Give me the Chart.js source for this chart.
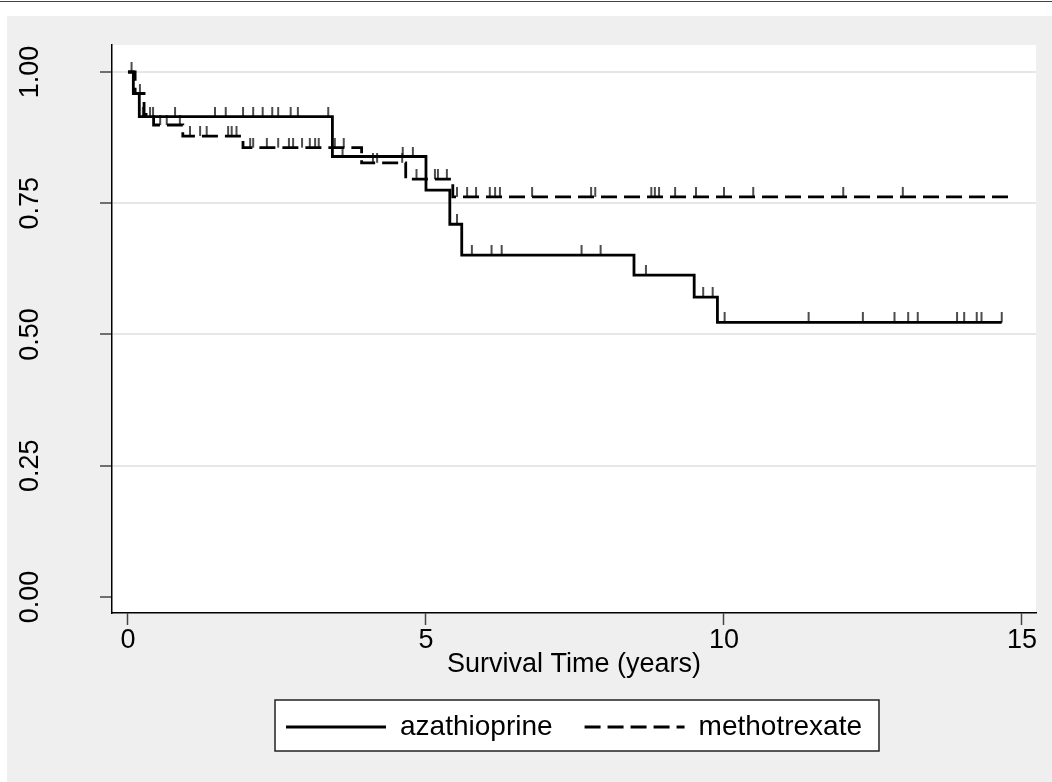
<!DOCTYPE html>
<html>
<head>
<meta charset="utf-8">
<script src="https://cdn.jsdelivr.net/npm/chart.js@4.4.1/dist/chart.umd.min.js"></script>
<style>
  html, body { margin: 0; padding: 0; background: #fff; }
  #frame { position: relative; width: 1052px; height: 782px; overflow: hidden; }
  #topline { position: absolute; left: 0; top: 1px; width: 1052px; height: 1px; background: #444; }
  #panel { position: absolute; left: 7px; top: 16px; right: 0; bottom: 0; background: #efefef; }
  #wrap { position: absolute; left: 0; top: 0; width: 1052px; height: 782px; }
</style>
</head>
<body>
<div id="frame">
  <div id="topline"></div>
  <div id="panel"></div>
  <div id="wrap"><canvas id="kmChart"></canvas></div>
</div>
<script>
// step points: time of each drop and the survival after it
const azaTimes = [0, 0.09, 0.19, 3.43, 5.0, 5.4, 5.6, 8.49, 9.5, 9.89, 14.66];
const azaSurv  = [1.0, 0.959, 0.915, 0.839, 0.775, 0.71, 0.651, 0.613, 0.571, 0.523, 0.523];
const mtxTimes = [0, 0.12, 0.27, 0.43, 0.92, 1.93, 3.92, 4.66, 5.45, 14.8];
const mtxSurv  = [1.0, 0.959, 0.919, 0.899, 0.878, 0.856, 0.827, 0.796, 0.762, 0.762];

// censoring times (drawn as ticks on the curve)
const azaCensored = [0.25, 0.37, 0.42, 0.79, 1.46, 1.64, 1.93, 2.10, 2.26, 2.42, 2.52, 2.73, 2.85, 3.36,
                     3.6, 4.61, 4.78, 5.52, 5.77, 6.10, 6.27, 7.61, 7.93, 8.69, 9.65, 9.81,
                     10.01, 11.42, 12.33, 12.86, 13.09, 13.25, 13.91, 14.03, 14.24, 14.32, 14.66];
const mtxCensored = [0.06, 0.2, 0.54, 0.65, 0.87, 1.04, 1.21, 1.32, 1.68, 1.74, 1.82,
                     2.05, 2.10, 2.33, 2.52, 2.70, 2.77, 2.92, 3.05, 3.14, 3.20, 3.47, 3.62,
                     4.11, 4.18, 4.60, 4.84, 5.15, 5.20, 5.35,
                     5.52, 5.69, 5.84, 6.07, 6.16, 6.24, 6.78, 7.77, 7.84, 8.78, 8.84, 8.91,
                     9.18, 9.53, 10.0, 10.49, 12.0, 13.0];

const xTickValues = [0, 5, 10, 15];
const yTickValues = [0, 0.25, 0.5, 0.75, 1];

const fontFamily = "'Liberation Sans', Arial, Helvetica, sans-serif";

function stepPoints(times, surv) {
    return times.map((t, i) => ({ x: t, y: surv[i] }));
}

function survivalAt(times, surv, t) {
    let s = surv[0];
    times.forEach((time, i) => { if (time <= t) s = surv[i]; });
    return s;
}

function censorPoints(times, surv, censored) {
    return censored.map(t => ({ x: t, y: survivalAt(times, surv, t) }));
}

// small upward tick used as point style for censored observations
function makeTickMark() {
    const c = document.createElement('canvas');
    c.width = 4;
    c.height = 20;
    const g = c.getContext('2d');
    g.fillStyle = '#222';
    g.fillRect(1.2, 0, 1.6, 10);
    return c;
}
const tickMark = makeTickMark();

const plotBackground = {
    id: 'plotBackground',
    beforeDraw(chart) {
        const { ctx, chartArea } = chart;
        ctx.save();
        ctx.fillStyle = '#fff';
        ctx.fillRect(chartArea.left, chartArea.top, chartArea.right - chartArea.left, chartArea.bottom - chartArea.top);

        const boxes = chart.legend.legendHitBoxes;
        if (boxes && boxes.length) {
            const first = boxes[0];
            const last = boxes[boxes.length - 1];
            const left = first.left - 11;
            const right = last.left + last.width + 17;
            const top = first.top - 13;
            ctx.fillStyle = '#fff';
            ctx.fillRect(left, top, right - left, 51);
            ctx.strokeStyle = '#222';
            ctx.lineWidth = 1.5;
            ctx.strokeRect(left, top, right - left, 51);
        }
        ctx.restore();
    }
};

const defaultLabels = Chart.defaults.plugins.legend.labels.generateLabels;

new Chart(document.getElementById('kmChart'), {
    type: 'line',
    data: {
        datasets: [
            {
                label: 'azathioprine',
                data: stepPoints(azaTimes, azaSurv),
                stepped: 'before',
                borderColor: '#000',
                borderWidth: 2.8,
                pointRadius: 0,
                fill: false,
            },
            {
                label: 'methotrexate',
                data: stepPoints(mtxTimes, mtxSurv),
                stepped: 'before',
                borderColor: '#000',
                borderWidth: 2.8,
                borderDash: [16, 7],
                pointRadius: 0,
                fill: false,
            },
            {
                label: 'aza censored',
                type: 'scatter',
                data: censorPoints(azaTimes, azaSurv, azaCensored),
                pointStyle: tickMark,
                pointRadius: 5,
                showLine: false,
            },
            {
                label: 'mtx censored',
                type: 'scatter',
                data: censorPoints(mtxTimes, mtxSurv, mtxCensored),
                pointStyle: tickMark,
                pointRadius: 5,
                showLine: false,
            },
        ],
    },
    options: {
        responsive: true,
        maintainAspectRatio: false,
        animation: false,
        events: [],
        layout: { padding: { left: 0, right: 16, top: 45, bottom: 31 } },
        plugins: {
            tooltip: { enabled: false },
            legend: {
                position: 'bottom',
                fullSize: false,
                labels: {
                    generateLabels: chart => defaultLabels(chart)
                        .filter(item => item.datasetIndex < 2)
                        .map(item => ({ ...item, lineDash: chart.data.datasets[item.datasetIndex].borderDash || [] })),
                    usePointStyle: true,
                    pointStyle: 'line',
                    pointStyleWidth: 100,
                    padding: 32,
                    color: '#000',
                    font: { family: fontFamily, size: 28 },
                },
            },
        },
        scales: {
            x: {
                type: 'linear',
                min: -0.268,
                max: 15.235,
                afterBuildTicks: scale => { scale.ticks = xTickValues.map(v => ({ value: v })); },
                afterFit: scale => {
                    scale.height = 68;
                    scale.paddingLeft = 0;
                    scale.paddingRight = 0;
                },
                border: { color: '#000', width: 1.5 },
                grid: { drawOnChartArea: false, tickLength: 12, tickColor: '#444', tickWidth: 1.5 },
                ticks: {
                    autoSkip: false,
                    maxRotation: 0,
                    padding: 2,
                    color: '#000',
                    font: { family: fontFamily, size: 27, lineHeight: 1 },
                },
                title: {
                    display: true,
                    text: 'Survival Time (years)',
                    color: '#000',
                    padding: { top: 0, bottom: 2.5 },
                    font: { family: fontFamily, size: 27, lineHeight: 1 },
                },
            },
            y: {
                min: -0.0305,
                max: 1.0514,
                afterBuildTicks: scale => { scale.ticks = yTickValues.map(v => ({ value: v })); },
                afterFit: scale => {
                    scale.width = 112;
                    scale.paddingTop = 0;
                    scale.paddingBottom = 0;
                },
                border: { color: '#000', width: 1.5 },
                grid: {
                    color: c => (c.tick && c.tick.value === 0 ? 'rgba(0,0,0,0)' : '#e6e6e6'),
                    lineWidth: 2,
                    tickLength: 12,
                    tickColor: '#444',
                    tickWidth: 1.5,
                },
                ticks: {
                    autoSkip: false,
                    minRotation: 90,
                    maxRotation: 90,
                    crossAlign: 'center',
                    padding: 43,
                    color: '#000',
                    font: { family: fontFamily, size: 27, lineHeight: 1 },
                    callback: v => Number(v).toFixed(2),
                },
            },
        },
    },
    plugins: [plotBackground],
});
</script>
</body>
</html>
